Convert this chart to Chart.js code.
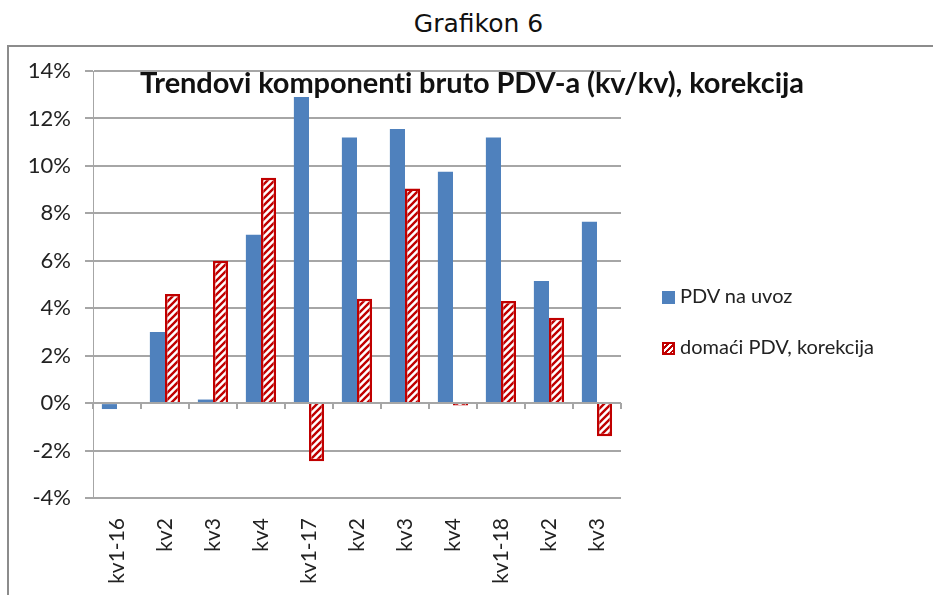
<!DOCTYPE html>
<html>
<head>
<meta charset="utf-8">
<script src="https://cdn.jsdelivr.net/npm/chart.js@4.4.0/dist/chart.umd.min.js"></script>
<style>
  html, body { margin: 0; padding: 0; background: #fff; overflow: hidden; }
  #wrap { position: relative; width: 933px; height: 595px; overflow: hidden; font-family: Lato, sans-serif; }
  #outer { position: absolute; left: 0; top: 9px; width: 933px; text-align: center; padding-left: 24px; box-sizing: border-box;
           font-family: 'DejaVu Sans', sans-serif; font-size: 25px; color: #111; }
  .fline { position: absolute; background: #8c8c8c; }
  #title { position: absolute; left: 140px; top: 64px; font-size: 29px; font-weight: bold; color: #111; white-space: nowrap; letter-spacing: -0.1px; }
  canvas { position: absolute; left: 0; top: 0; }
  .leg { position: absolute; left: 662px; font-size: 20px; color: #222; white-space: nowrap; }
  .sw { display: inline-block; width: 13px; height: 13px; margin-right: 5px; vertical-align: -1px; box-sizing: border-box; }
</style>
</head>
<body>
<div id="wrap">
  <div id="outer">Grafikon 6</div>
  <div class="fline" style="left:7px;top:45px;width:926px;height:2px"></div>
  <div class="fline" style="left:7px;top:45px;width:2px;height:550px"></div>
  <canvas id="c" width="933" height="595"></canvas>
  <div id="title">Trendovi komponenti bruto PDV-a (kv/kv), korekcija</div>
  <div class="leg" style="top:283px"><span class="sw" style="background:#4F81BD"></span>PDV na uvoz</div>
  <div class="leg" style="top:334px"><span class="sw" style="border:2px solid #C00000;background:repeating-linear-gradient(135deg,#fff 0 2px,#C00000 2px 4px)"></span>domaći PDV, korekcija</div>
</div>
<script>
const quarters = ['kv1-16', 'kv2', 'kv3', 'kv4', 'kv1-17', 'kv2', 'kv3', 'kv4', 'kv1-18', 'kv2', 'kv3'];
const pdvUvoz = [-0.25, 3.0, 0.15, 7.1, 12.9, 11.2, 11.55, 9.75, 11.2, 5.15, 7.65];
const domaciPdv = [0, 4.6, 6.0, 9.5, -2.45, 4.4, 9.05, -0.1, 4.3, 3.6, -1.4];
const yMin = -4, yMax = 14, yStep = 2;

// hatch fill for the domestic series
function hatch() {
    const p = document.createElement('canvas');
    p.width = 7; p.height = 7;
    const g = p.getContext('2d');
    g.fillStyle = '#fff';
    g.fillRect(0, 0, 7, 7);
    g.strokeStyle = '#C00000';
    g.lineWidth = 2.4;
    g.beginPath();
    g.moveTo(-1, 8); g.lineTo(8, -1);
    g.moveTo(-4.5, 4.5); g.lineTo(4.5, -4.5);
    g.moveTo(2.5, 11.5); g.lineTo(11.5, 2.5);
    g.stroke();
    return g.createPattern(p, 'repeat');
}

const ctx = document.getElementById('c').getContext('2d');
new Chart(ctx, {
    type: 'bar',
    data: {
        labels: quarters,
        datasets: [
            { label: 'PDV na uvoz', data: pdvUvoz, backgroundColor: '#4F81BD', borderWidth: 0 },
            { label: 'domaći PDV, korekcija', data: domaciPdv, backgroundColor: hatch(), borderColor: '#C00000', borderWidth: 2.5 }
        ]
    },
    options: {
        responsive: false,
        animation: false,
        layout: { padding: { left: 0, top: 71, right: 312, bottom: 0 } },
        datasets: { bar: { categoryPercentage: 0.63, barPercentage: 1 } },
        plugins: { legend: { display: false }, tooltip: { enabled: false } },
        scales: {
            y: {
                min: yMin, max: yMax,
                ticks: { stepSize: yStep, callback: v => v + '%', color: '#222', font: { family: 'Lato', size: 22 }, padding: 14 },
                grid: { color: '#a6a6a6', lineWidth: 2, tickLength: 8 },
                border: { display: true, color: '#a6a6a6', width: 1 },
                afterFit: s => { s.width = 93; }
            },
            x: {
                ticks: { minRotation: 90, maxRotation: 90, autoSkip: false, color: '#222', font: { family: 'Lato', size: 21 }, padding: 12 },
                grid: { display: false },
                border: { display: false },
                afterFit: s => { s.height = 97; }
            },
            x2: {
                type: 'category',
                labels: quarters,
                position: { y: 0 },
                offset: true,
                ticks: { display: false },
                grid: { drawOnChartArea: false, offset: true, tickLength: 6, color: '#a6a6a6', lineWidth: 2 },
                border: { display: false }
            }
        }
    }
});
</script>
</body>
</html>
